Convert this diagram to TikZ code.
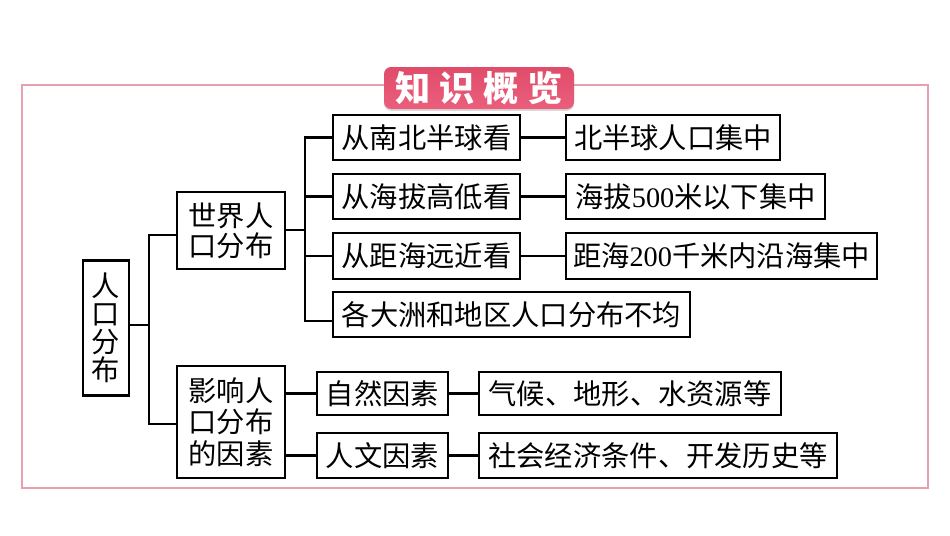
\documentclass[tikz,border=0pt]{standalone}
\usepackage{fontspec}
\setmainfont{Noto Sans CJK SC}
\newfontfamily\digitfont{Liberation Serif}
\newfontfamily\titlefont[LetterSpace=26]{Noto Sans CJK SC Black}
\usetikzlibrary{calc,positioning,shadows}
\tikzset{box/.style={draw, line width=1.3pt, inner sep=0pt, align=center, font=\fontsize{16.1}{16}\selectfont},
 lnk/.style={line width=1.3pt},
 frm/.style={draw=framepink, line width=.7pt},
 ttl/.style={rounded corners=4pt, top color=titletop, bottom color=titlebot, text=white, inner sep=0pt,
  drop shadow={shadow xshift=0pt, shadow yshift=-1pt, opacity=.3}, font=\titlefont\fontsize{20}{20}\selectfont}}
\definecolor{framepink}{HTML}{E8A0AE}
\definecolor{titletop}{HTML}{E04C6A}
\definecolor{titlebot}{HTML}{EA5F7C}
\begin{document}
\begin{tikzpicture}[x=.02cm, y=-.02cm]
\useasboundingbox (0,0) rectangle (950,535);
\node[frm, minimum width=906*.02cm, minimum height=403*.02cm, inner sep=0pt] (frame) at (475,286.5) {};
\node[ttl, minimum width=190*.02cm, minimum height=42*.02cm] (title) at (479,88) {知识概览};
% name/centre x/centre y/width/height/text
\foreach \nm/\cx/\cy/\w/\h/\txt in {
 root/106/328/46/135/{人\\口\\分\\布},
 world/231/230.5/108/77/{世界人\\[1pt]口分布},
 factor/231/422/108/112/{影响人\\[1.8pt]口分布\\[1.8pt]的因素},
 ns/426.5/137.5/187/45/{从南北半球看},
 alt/426.5/196.5/187/45/{从海拔高低看},
 sea/426.5/256/187/46/{从距海远近看},
 cont/511.5/314.5/357/45/{各大洲和地区人口分布不均},
 nsr/673/137.5/214/45/{北半球人口集中},
 altr/695.5/196.5/259/45/{海拔{\digitfont 500}米以下集中},
 sear/721.5/256/311/46/{距海{\digitfont 200}千米内沿海集中},
 nat/382.5/393.5/131/43/{自然因素},
 hum/382.5/455.5/131/45/{人文因素},
 natr/630/393.5/302/43/{气候、地形、水资源等},
 humr/658/455.5/358/45/{社会经济条件、开发历史等}}
 {\node[box, minimum width=\w*.02cm, minimum height=\h*.02cm] (\nm) at (\cx,\cy) {\txt};}
\coordinate (b1) at (149,325);
\coordinate (b2) at (305,230);
\draw[lnk] (root.east |- b1) -- (b1);
\draw[lnk] (world.west |- 0,235) -| (b1) |- (factor.west |- 0,424);
\draw[lnk] (world.east |- b2) -- (b2);
\draw[lnk] (ns.west) -| (b2) |- (cont.west |- 0,321);
\draw[lnk] (alt.west) -- (alt.west -| b2);
\draw[lnk] (sea.west) -- (sea.west -| b2);
\foreach \a/\b in {ns/nsr, alt/altr, sea/sear}{\draw[lnk] (\a) -- (\b);}
\draw[lnk] (factor.east |- nat) -- (nat);
\draw[lnk] (factor.east |- hum) -- (hum);
\draw[lnk] (nat) -- (natr);
\draw[lnk] (hum) -- (humr);
\end{tikzpicture}
\end{document}
